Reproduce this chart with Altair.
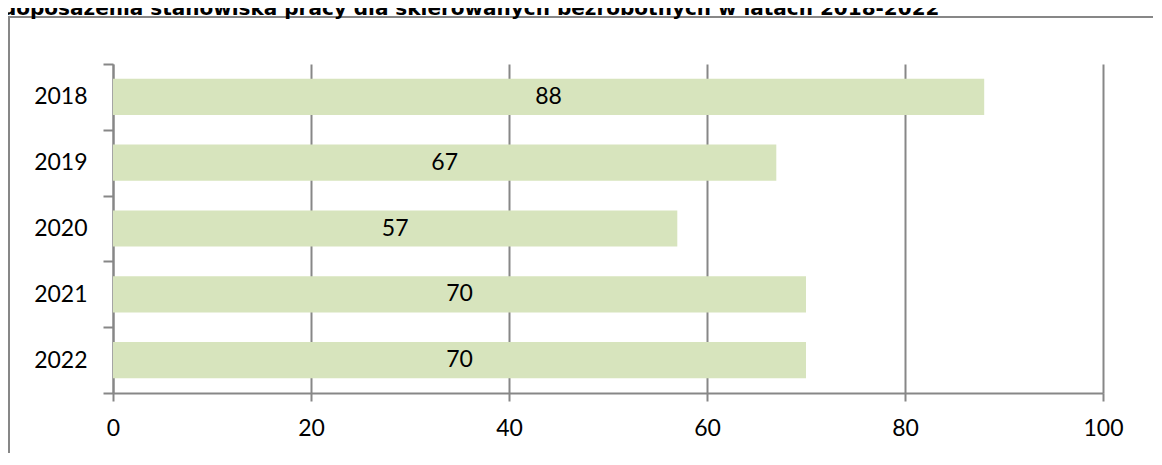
import altair as alt
import pandas as pd

title_text = "doposażenia stanowiska pracy dla skierowanych bezrobotnych w latach 2018-2022"
years = ["2018", "2019", "2020", "2021", "2022"]
values = [88, 67, 57, 70, 70]
x_ticks = [0, 20, 40, 60, 80, 100]

df = pd.DataFrame({"rok": years, "wartosc": values})

W, H = 990, 329
GRAY = "#878787"
FONT = "Lato"

y_enc = alt.Y(
    "rok:N",
    sort=years,
    scale=alt.Scale(paddingInner=0, paddingOuter=0),
    axis=alt.Axis(
        title=None,
        tickBand="extent",
        tickSize=10,
        tickColor=GRAY,
        tickWidth=2,
        domainColor=GRAY,
        domainWidth=2,
        labelFont=FONT,
        labelFontSize=23,
        labelColor="black",
        labelPadding=16,
        grid=False,
    ),
)

bars = alt.Chart(df).mark_bar(
    color="#D7E4BD", height=alt.RelativeBandSize(0.55)
).encode(
    x=alt.X(
        "wartosc:Q",
        scale=alt.Scale(domain=[0, 100], nice=False),
        axis=alt.Axis(
            title=None,
            values=x_ticks,
            tickSize=8,
            tickColor=GRAY,
            tickWidth=2,
            domainColor=GRAY,
            domainWidth=2,
            grid=True,
            gridColor=GRAY,
            gridWidth=2,
            labelFont=FONT,
            labelFontSize=23,
            labelColor="black",
            labelPadding=16,
            labelFlush=False,
        ),
    ),
    y=y_enc,
)

labels = alt.Chart(df).transform_calculate(mid="datum.wartosc / 2").mark_text(
    font=FONT, fontSize=23, color="black", align="center", baseline="middle"
).encode(
    x=alt.X("mid:Q"),
    y=alt.Y("rok:N", sort=years),
    text=alt.Text("wartosc:Q"),
)

deco = pd.DataFrame({"t": [title_text]})

border = alt.Chart(deco).mark_rect(
    fillOpacity=0, stroke=GRAY, strokeWidth=2
).encode(
    x=alt.value(-104), x2=alt.value(W + 200), y=alt.value(-47), y2=alt.value(H + 200)
)

title = alt.Chart(deco).mark_text(
    font="DejaVu Sans", fontWeight="bold", fontSize=20, color="black",
    align="left", baseline="alphabetic"
).encode(
    x=alt.value(-111), y=alt.value(-49), text="t:N"
)

chart = alt.layer(bars, labels, border, title).properties(
    width=W,
    height=H,
    autosize=alt.AutoSizeParams(type="none"),
    padding={"left": 105, "top": 56, "right": 50, "bottom": 60},
).configure_view(stroke=None)

chart.save("out.html", embed_options={"renderer": "svg", "actions": False})
